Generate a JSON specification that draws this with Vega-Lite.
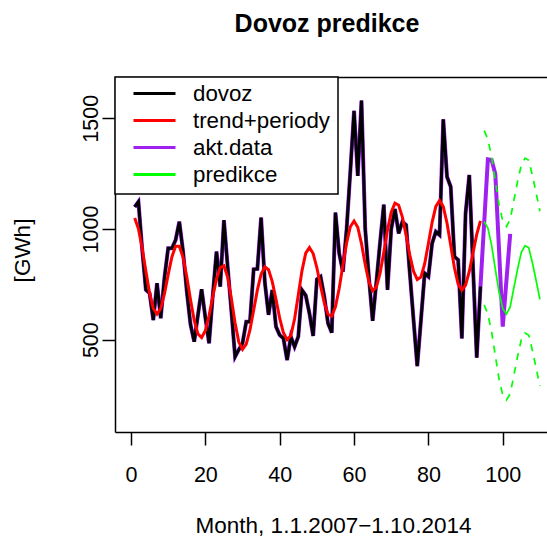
{
"$schema": "https://vega.github.io/schema/vega-lite/v6.json",
"width": 432, "height": 355,
"autosize": {"type": "none"},
"padding": {"left": 115, "top": 77, "right": 0, "bottom": 106},
"background": "white",
"config": {
  "view": {"stroke": null},
  "font": "Liberation Sans",
  "axis": {"grid": false, "domainColor": "black", "domainWidth": 1.5, "tickColor": "black", "tickWidth": 1.5, "tickSize": 13, "labelFontSize": 21.5, "labelColor": "black", "labelFont": "Liberation Sans", "titleFontSize": 22.5, "titleFontWeight": "normal", "titleColor": "black", "titleFont": "Liberation Sans"},
  "legend": {"orient": "none", "legendX": 0, "legendY": 0, "fillColor": "white", "strokeColor": "black", "strokeWidth": 1.5, "padding": 8, "symbolType": "stroke", "symbolSize": 1764, "symbolStrokeWidth": 3, "labelFontSize": 22.3, "labelColor": "black", "labelFont": "Liberation Sans", "labelOffset": 16, "symbolOffset": 9, "clipHeight": 17, "rowPadding": 4, "labelBaseline": "middle", "labelLimit": 400}
},
"title": {"text": "Dovoz predikce", "fontSize": 25, "fontWeight": "bold", "font": "Liberation Sans", "anchor": "middle", "dx": -4, "offset": 39, "color": "black"},
"data": {"values": [
{"t":1,"d":1100,"a":1100,"r":1050},
{"t":2,"d":1123,"a":1123,"r":1001},
{"t":3,"d":910,"a":910,"r":914},
{"t":4,"d":725,"a":725,"r":810},
{"t":5,"d":710,"a":710,"r":711},
{"t":6,"d":589,"a":589,"r":641},
{"t":7,"d":755,"a":755,"r":616},
{"t":8,"d":597,"a":597,"r":641},
{"t":9,"d":780,"a":780,"r":707},
{"t":10,"d":913,"a":913,"r":794},
{"t":11,"d":913,"a":913,"r":874},
{"t":12,"d":950,"a":950,"r":922},
{"t":13,"d":1033,"a":1033,"r":922},
{"t":14,"d":900,"a":900,"r":872},
{"t":15,"d":720,"a":720,"r":785},
{"t":16,"d":570,"a":570,"r":682},
{"t":17,"d":491,"a":491,"r":588},
{"t":18,"d":610,"a":610,"r":526},
{"t":19,"d":728,"a":728,"r":510},
{"t":20,"d":600,"a":600,"r":541},
{"t":21,"d":484,"a":484,"r":609},
{"t":22,"d":700,"a":700,"r":695},
{"t":23,"d":898,"a":898,"r":774},
{"t":24,"d":740,"a":740,"r":826},
{"t":25,"d":1040,"a":1040,"r":834},
{"t":26,"d":830,"a":830,"r":783},
{"t":27,"d":630,"a":630,"r":686},
{"t":28,"d":423,"a":423,"r":575},
{"t":29,"d":455,"a":455,"r":489},
{"t":30,"d":484,"a":484,"r":456},
{"t":31,"d":581,"a":581,"r":480},
{"t":32,"d":581,"a":581,"r":544},
{"t":33,"d":818,"a":818,"r":633},
{"t":34,"d":820,"a":820,"r":725},
{"t":35,"d":1051,"a":1051,"r":796},
{"t":36,"d":760,"a":760,"r":829},
{"t":37,"d":612,"a":612,"r":816},
{"t":38,"d":724,"a":724,"r":762},
{"t":39,"d":559,"a":559,"r":682},
{"t":40,"d":521,"a":521,"r":597},
{"t":41,"d":506,"a":506,"r":531},
{"t":42,"d":408,"a":408,"r":500},
{"t":43,"d":514,"a":514,"r":519},
{"t":44,"d":468,"a":468,"r":593},
{"t":45,"d":514,"a":514,"r":702},
{"t":46,"d":724,"a":724,"r":812},
{"t":47,"d":700,"a":700,"r":891},
{"t":48,"d":619,"a":619,"r":916},
{"t":49,"d":517,"a":517,"r":889},
{"t":50,"d":773,"a":773,"r":825},
{"t":51,"d":785,"a":785,"r":743},
{"t":52,"d":694,"a":694,"r":666},
{"t":53,"d":574,"a":574,"r":615},
{"t":54,"d":532,"a":532,"r":606},
{"t":55,"d":1074,"a":1074,"r":648},
{"t":56,"d":890,"a":890,"r":731},
{"t":57,"d":807,"a":807,"r":836},
{"t":58,"d":1000,"a":1000,"r":937},
{"t":59,"d":1260,"a":1260,"r":1010},
{"t":60,"d":1534,"a":1534,"r":1036},
{"t":61,"d":1240,"a":1240,"r":1008},
{"t":62,"d":1580,"a":1580,"r":934},
{"t":63,"d":1000,"a":1000,"r":840},
{"t":64,"d":780,"a":780,"r":760},
{"t":65,"d":585,"a":585,"r":721},
{"t":66,"d":760,"a":760,"r":737},
{"t":67,"d":940,"a":940,"r":800},
{"t":68,"d":1110,"a":1110,"r":894},
{"t":69,"d":725,"a":725,"r":995},
{"t":70,"d":1000,"a":1000,"r":1076},
{"t":71,"d":1090,"a":1090,"r":1117},
{"t":72,"d":980,"a":980,"r":1107},
{"t":73,"d":1033,"a":1033,"r":1054},
{"t":74,"d":1018,"a":1018,"r":972},
{"t":75,"d":800,"a":800,"r":882},
{"t":76,"d":590,"a":590,"r":809},
{"t":77,"d":381,"a":381,"r":772},
{"t":78,"d":590,"a":590,"r":783},
{"t":79,"d":800,"a":800,"r":843},
{"t":80,"d":785,"a":785,"r":934},
{"t":81,"d":935,"a":935,"r":1030},
{"t":82,"d":988,"a":988,"r":1102},
{"t":83,"d":973,"a":973,"r":1128},
{"t":84,"d":1495,"a":1495,"r":1101},
{"t":85,"d":1236,"a":1236,"r":1027},
{"t":86,"d":1191,"a":1191,"r":926},
{"t":87,"d":875,"a":875,"r":825},
{"t":88,"d":860,"a":860,"r":751},
{"t":89,"d":506,"a":506,"r":724},
{"t":90,"d":1071,"a":1071,"r":747},
{"t":91,"d":1244,"a":1244,"r":808},
{"t":92,"d":830,"a":830,"r":892},
{"t":93,"d":419,"a":419,"r":976},
{"t":94,"d":740,"a":740,"r":1037},
{"t":95,"a":1028,"p":1033,"u":1444,"l":657},
{"t":96,"a":1315,"p":1004,"u":1405,"l":615},
{"t":97,"a":1312,"p":926,"u":1325,"l":535},
{"t":98,"a":1248,"p":819,"u":1215,"l":428},
{"t":99,"a":905,"p":714,"u":1110,"l":322},
{"t":100,"a":559,"p":640,"u":1035,"l":250},
{"t":101,"a":770,"p":616,"u":1011,"l":228},
{"t":102,"a":978,"p":648,"u":1043,"l":255},
{"t":103,"p":735,"u":1130,"l":340},
{"t":104,"p":820,"u":1215,"l":425},
{"t":105,"p":895,"u":1290,"l":500},
{"t":106,"p":925,"u":1320,"l":530},
{"t":107,"p":915,"u":1310,"l":520},
{"t":108,"p":845,"u":1240,"l":450},
{"t":109,"p":765,"u":1160,"l":370},
{"t":110,"p":682,"u":1080,"l":291}
]},
"resolve": {"axis": {"x": "independent"}},
"layer": [
 {"transform": [{"filter": "isValid(datum.a)"}],
  "mark": {"type": "line", "strokeWidth": 4, "clip": true},
  "encoding": {
   "x": {"field": "t", "type": "quantitative", "scale": {"domain": [-4.3, 111.9], "nice": false, "zero": false},
         "axis": {"values": [0, 20, 40, 60, 80, 100], "labelBaseline": "middle", "labelPadding": 30, "title": "Month, 1.1.2007−1.10.2014", "titleX": 218, "titleY": 93, "titleBaseline": "middle", "titleAlign": "center"}},
   "y": {"field": "a", "type": "quantitative", "title": "[GWh]", "scale": {"domain": [83, 1686.5], "nice": false, "zero": false},
         "axis": {"values": [500, 1000, 1500], "format": "d", "labelAngle": 270, "labelAlign": "center", "labelBaseline": "middle", "labelPadding": 11, "titleAngle": 270, "titleX": -93, "titleY": 173, "titleAlign": "center", "titleBaseline": "middle"}},
   "color": {"datum": "akt.data", "type": "nominal", "scale": {"domain": ["dovoz", "trend+periody", "akt.data", "predikce"], "range": ["#000000", "#FF0000", "#A020F0", "#00FF00"]}, "legend": {"title": null}}
  }},
 {"transform": [{"filter": "isValid(datum.d)"}],
  "mark": {"type": "line", "strokeWidth": 3, "clip": true},
  "encoding": {
   "x": {"field": "t", "type": "quantitative", "scale": {"domain": [-4.3, 111.9], "nice": false, "zero": false}, "axis": null},
   "y": {"field": "d", "type": "quantitative", "title": "[GWh]", "scale": {"domain": [83, 1686.5], "nice": false, "zero": false}},
   "color": {"datum": "dovoz", "type": "nominal"}
  }},
 {"transform": [{"filter": "isValid(datum.r)"}],
  "mark": {"type": "line", "strokeWidth": 3, "clip": true},
  "encoding": {
   "x": {"field": "t", "type": "quantitative", "scale": {"domain": [-4.3, 111.9], "nice": false, "zero": false}, "axis": null},
   "y": {"field": "r", "type": "quantitative", "title": "[GWh]", "scale": {"domain": [83, 1686.5], "nice": false, "zero": false}},
   "color": {"datum": "trend+periody", "type": "nominal"}
  }},
 {"transform": [{"filter": "isValid(datum.p)"}],
  "mark": {"type": "line", "strokeWidth": 1.7, "clip": true},
  "encoding": {
   "x": {"field": "t", "type": "quantitative", "scale": {"domain": [-4.3, 111.9], "nice": false, "zero": false}, "axis": null},
   "y": {"field": "p", "type": "quantitative", "title": "[GWh]", "scale": {"domain": [83, 1686.5], "nice": false, "zero": false}},
   "color": {"datum": "predikce", "type": "nominal"}
  }},
 {"transform": [{"filter": "isValid(datum.u)"}],
  "mark": {"type": "line", "strokeWidth": 1.7, "strokeDash": [7, 7], "color": "#00FF00", "clip": true},
  "encoding": {
   "x": {"field": "t", "type": "quantitative", "scale": {"domain": [-4.3, 111.9], "nice": false, "zero": false},
         "axis": {"orient": "top", "labels": false, "ticks": false, "title": null, "domain": true}},
   "y": {"field": "u", "type": "quantitative", "title": "[GWh]", "scale": {"domain": [83, 1686.5], "nice": false, "zero": false}}
  }},
 {"transform": [{"filter": "isValid(datum.l)"}],
  "mark": {"type": "line", "strokeWidth": 1.7, "strokeDash": [7, 7], "color": "#00FF00", "clip": true},
  "encoding": {
   "x": {"field": "t", "type": "quantitative", "scale": {"domain": [-4.3, 111.9], "nice": false, "zero": false}, "axis": null},
   "y": {"field": "l", "type": "quantitative", "title": "[GWh]", "scale": {"domain": [83, 1686.5], "nice": false, "zero": false}}
  }}
]
}
